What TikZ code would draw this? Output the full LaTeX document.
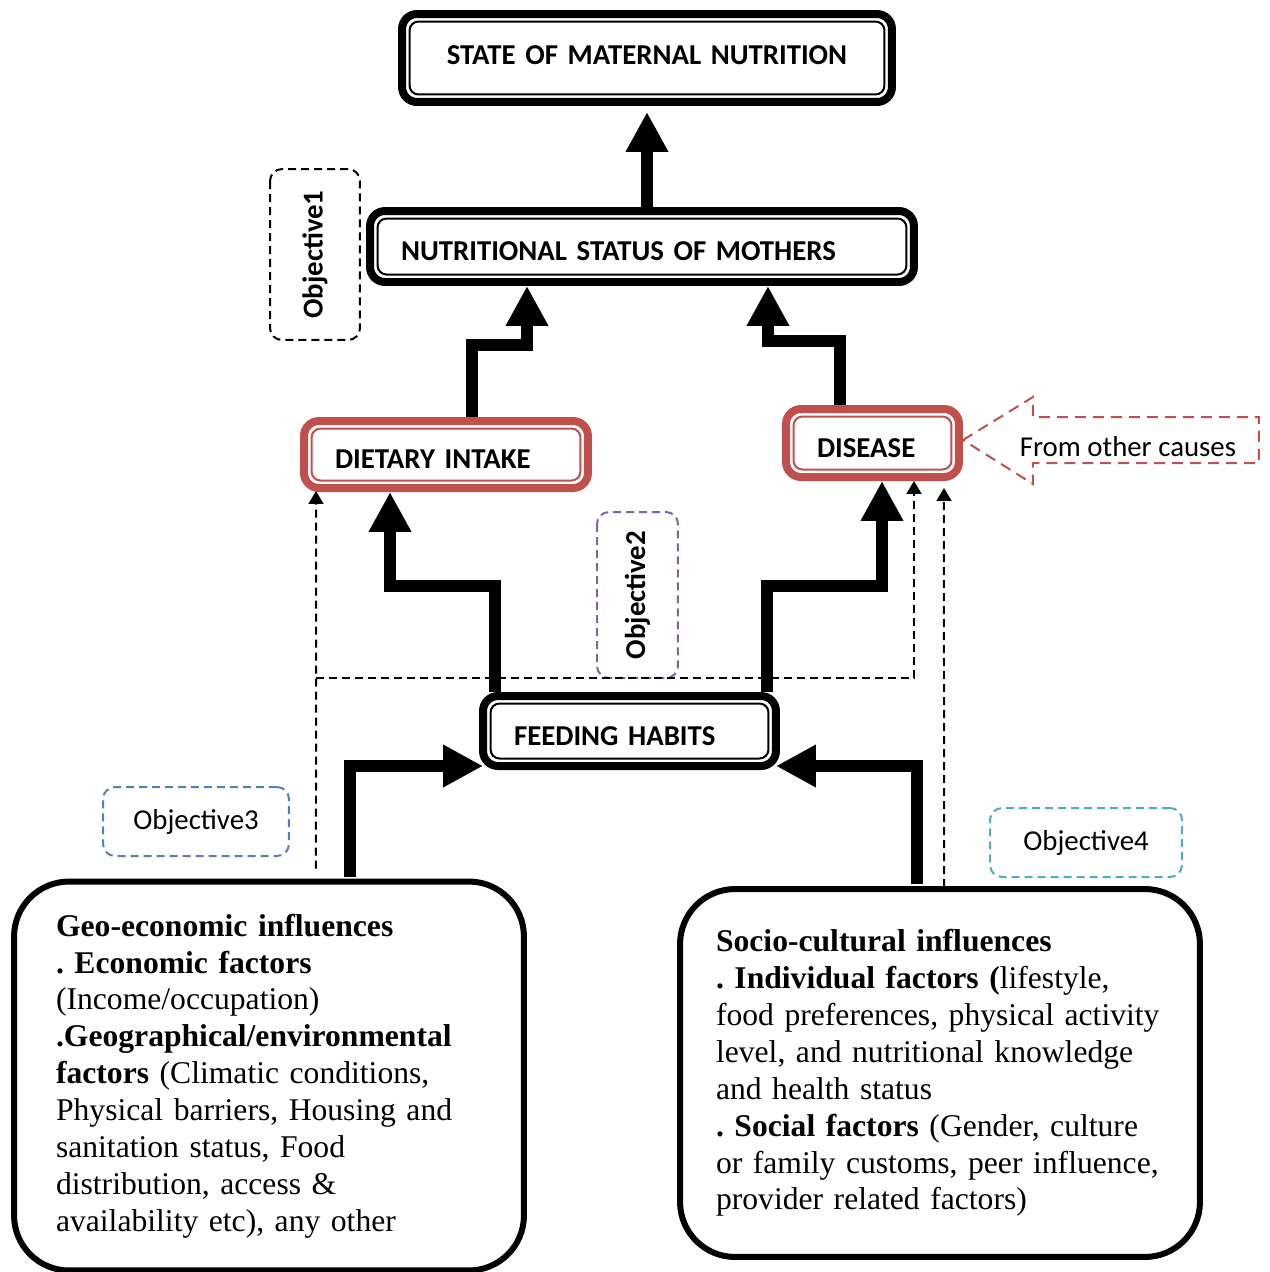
\documentclass[tikz,border=0pt]{standalone}
\usepackage{fontspec}
\setmainfont{Liberation Serif}
\setsansfont{Carlito}
\usepackage{tikz}
\usepackage{xcolor}
\usetikzlibrary{arrows.meta, calc}
\definecolor{cRed}{RGB}{192,80,77}
\definecolor{cPurple}{RGB}{128,100,162}
\definecolor{cBlue}{RGB}{79,129,189}
\definecolor{cCyan}{RGB}{75,172,198}
\tikzset{
	dblbox/.style={rectangle, draw=#1, line width=0.16cm, outer sep=0pt, rounded corners=0.3cm, align=left, inner xsep=0.62cm, text height=0.56cm, text depth=0pt, font=\sffamily\bfseries\fontsize{16.4}{20}\selectfont,
		path picture={\draw[#1, line width=0.04cm, rounded corners=0.18cm] ([shift={(0.15cm,-0.15cm)}]path picture bounding box.north west) rectangle ([shift={(-0.15cm,0.15cm)}]path picture bounding box.south east);}},
	dblbox/.default=black,
	objbox/.style={rectangle, draw=#1, line width=0.04cm, dash pattern=on 0.16cm off 0.1cm, rounded corners=0.24cm, font=\sffamily\fontsize{16.4}{20}\selectfont},
	objvert/.style={objbox=#1, rotate=90, font=\sffamily\bfseries\fontsize{16.4}{20}\selectfont},
	infobox/.style={rectangle, draw=black, line width=0.12cm, outer sep=0pt, rounded corners=1.1cm, align=left, font=\fontsize{18}{21}\selectfont},
	% connectors
	bigarrow/.style={line width=0.24cm, -{Triangle[length=0.8cm, width=0.8cm]}},
	dasharrow/.style={line width=0.04cm, dash pattern=on 0.16cm off 0.1cm, -{Triangle[length=0.26cm, width=0.3cm]}},
}
\begin{document}
\frenchspacing
\begin{tikzpicture}[x=0.02cm, y=-0.02cm]
	\useasboundingbox (0,0) rectangle (1269,1272);
	\node[dblbox, align=center, text width=8.56cm, text height=0.27cm, minimum height=1.76cm] (state) at (647,58) {STATE OF MATERNAL NUTRITION};
	\node[dblbox, text width=9.64cm, minimum height=1.42cm] (nsm) at (642,246.5) {NUTRITIONAL STATUS OF MOTHERS};
	\node[dblbox=cRed, text width=4.44cm, minimum height=1.34cm] (diet) at (446,454.5) {DIETARY INTAKE};
	\node[dblbox=cRed, text width=2.22cm, minimum height=1.36cm] (dis) at (872.5,443) {DISEASE};
	\node[dblbox, text width=4.62cm, minimum height=1.4cm] (feed) at (629.5,731) {FEEDING HABITS};
	\node[objvert=black, minimum width=3.42cm, minimum height=1.8cm] (obj1) at (315,254.5) {Objective1};
	\node[objvert=cPurple, minimum width=3.32cm, minimum height=1.62cm] (obj2) at (637.5,595) {Objective2};
	\node[objbox=cBlue, minimum width=3.72cm, minimum height=1.38cm] (obj3) at (196,821.5) {Objective3};
	\node[objbox=cCyan, minimum width=3.84cm, minimum height=1.38cm] (obj4) at (1086,842.5) {Objective4};
	\node[infobox, inner xsep=0.84cm, text width=8.52cm, minimum height=7.78cm] (geo) at (269,1076) {\textbf{Geo-economic influences}\\ \textbf{. Economic factors}\\ (Income/occupation)\\ \textbf{.Geographical/environmental}\\ \textbf{factors} (Climatic conditions,\\ Physical barriers, Housing and\\ sanitation status, Food\\ distribution, access \&\\ availability etc), any other};
	\node[infobox, inner xsep=0.72cm, text width=8.96cm, minimum height=7.36cm] (socio) at (940,1073) {\textbf{Socio-cultural influences}\\ \textbf{. Individual factors (}lifestyle,\\ food preferences, physical activity\\ level, and nutritional knowledge\\ and health status\\ \textbf{. Social factors} (Gender, culture\\ or family customs, peer influence,\\ provider related factors)};
	% other causes
	\draw[cRed, line width=0.04cm, dash pattern=on 0.22cm off 0.14cm] ([xshift=0.08cm,yshift=0.06cm]dis.east) -- ++(70,-43) -- ++(0,20) -- ++(226,0) -- ++(0,46) -- ++(-226,0) -- ++(0,21) -- cycle;
	\node[font=\sffamily\fontsize{16.4}{20}\selectfont] (other) at (1128,447) {From other causes};
	% dashed links
	\coordinate (split) at (316,678);
	\draw[dasharrow] ([xshift=0.94cm,yshift=0.26cm]geo.north) -- ([xshift=0.24cm,yshift=-0.06cm]diet.south west);
	\draw[dasharrow] (split) -| ([xshift=0.83cm,yshift=-0.08cm]dis.south);
	\draw[dasharrow] ([xshift=0.08cm,yshift=0.04cm]socio.north) -- ([xshift=1.43cm,yshift=-0.22cm]dis.south);
	% main flow
	\draw[bigarrow] (state.south |- nsm.north) -- ([yshift=-0.2cm]state.south);
	\draw[bigarrow] ([xshift=0.52cm,yshift=0.08cm]diet.north) -- ++(0,-72) -| ([xshift=-2.3cm,yshift=-0.08cm]nsm.south);
	\draw[bigarrow] ([xshift=-0.65cm,yshift=0.08cm]dis.north) -- ++(0,-64) -| ([xshift=2.52cm,yshift=-0.08cm]nsm.south);
	\draw[bigarrow] ([xshift=-2.69cm,yshift=0.08cm]feed.north) -- ++(0,-106) -| ([xshift=-1.12cm,yshift=-0.08cm]diet.south);
	\draw[bigarrow] ([xshift=2.75cm,yshift=0.08cm]feed.north) -- ++(0,-106) -| ([xshift=0.19cm,yshift=-0.08cm]dis.south);
	\draw[bigarrow] ([xshift=1.62cm,yshift=0.1cm]geo.north) |- (feed.south west);
	\draw[bigarrow] ([xshift=-0.46cm,yshift=0.1cm]socio.north) |- (feed.south east);
\end{tikzpicture}
\end{document}
